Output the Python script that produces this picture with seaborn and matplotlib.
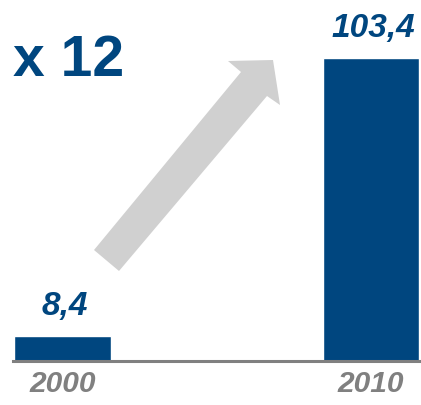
import matplotlib
matplotlib.use("Agg")
import matplotlib.pyplot as plt
import seaborn as sns
import pandas as pd
from matplotlib.patches import Polygon

years = ["2000", "2010"]
values = [8.4, 103.4]
value_labels = ["8,4", "103,4"]
growth_label = "x 12"

BLUE = "#00467F"
GREY = "#808080"
ARROW = "#D0D0D0"

sns.set_theme(style="white")
plt.rcParams["font.family"] = ["Liberation Sans", "DejaVu Sans"]

W, H = 421, 406
fig = plt.figure(figsize=(W / 100, H / 100), dpi=100)
fig.patch.set_facecolor("white")

# axes in pixel layout: left 13, right 419, baseline at 362 from top
ax = fig.add_axes([13 / W, 44 / H, (419 - 13) / W, (H - 44) / H])

df = pd.DataFrame({"year": years, "value": values})
sns.barplot(data=df, x="year", y="value", color=BLUE, saturation=1,
            width=0.314, ax=ax)

unit = 308.5
ax.set_xlim(-(62.5 - 13) / unit, 1 + (419 - 371) / unit)
px_per_val = 303 / 103.4
ax.set_ylim(0, 362 / px_per_val)

for i, (v, lab) in enumerate(zip(values, value_labels)):
    ax.annotate(lab, xy=(i, v), xytext=(2, 16), textcoords="offset points",
                ha="center", va="baseline", fontsize=24, fontweight="bold",
                fontstyle="italic", color=BLUE)

ax.set_xlabel("")
ax.set_ylabel("")
ax.set_yticks([])
ax.tick_params(axis="x", length=0, pad=6)
for t in ax.get_xticklabels():
    t.set_fontsize(21.5)
    t.set_fontweight("bold")
    t.set_fontstyle("italic")
    t.set_color(GREY)
for s in ["left", "top", "right"]:
    ax.spines[s].set_visible(False)
ax.spines["bottom"].set_color(GREY)
ax.spines["bottom"].set_linewidth(2.2)
ax.patch.set_alpha(0)

# growth arrow (decoration)
pts = [(94, 251), (241, 73), (228, 62), (273, 61), (280, 106), (267, 97), (119, 272)]
poly = Polygon([(x / W, 1 - y / H) for x, y in pts], closed=True,
               facecolor=ARROW, edgecolor="none", transform=fig.transFigure,
               zorder=0)
fig.add_artist(poly)

fig.text(13 / W, 1 - 76 / H, growth_label, fontsize=41, fontweight="bold",
         color=BLUE, ha="left", va="baseline")

fig.savefig("out.png", dpi=100, facecolor="white")
